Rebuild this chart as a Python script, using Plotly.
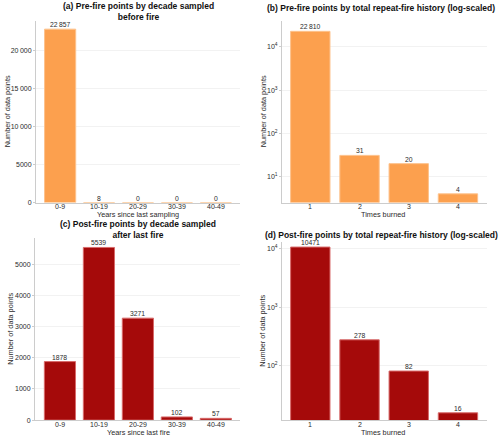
import math
import plotly.graph_objects as go

W, H = 500, 442

decades = ["0-9", "10-19", "20-29", "30-39", "40-49"]
times_burned = ["1", "2", "3", "4"]

pre_decade_counts = [22857, 8, 0, 0, 0]
pre_times_counts = [22810, 31, 20, 4]
post_decade_counts = [1878, 5539, 3271, 102, 57]
post_times_counts = [10471, 278, 82, 16]

pre_decade_labels = ["22\u2009857", "8", "0", "0", "0"]
pre_times_labels = ["22\u2009810", "31", "20", "4"]
post_decade_labels = ["1878", "5539", "3271", "102", "57"]
post_times_labels = ["10471", "278", "82", "16"]

lin_a_ticks = [0, 5000, 10000, 15000, 20000]
lin_a_text = ["0", "5000", "10\u2009000", "15\u2009000", "20\u2009000"]
lin_c_ticks = [0, 1000, 2000, 3000, 4000, 5000]
log_ticks = [10, 100, 1000, 10000]
log_text = ["10<sup>1</sup>", "10<sup>2</sup>", "10<sup>3</sup>", "10<sup>4</sup>"]

ORANGE = "#FCA04E"
ORANGE_EDGE = "#FDC28C"
RED = "#A50A0A"
RED_EDGE = "#D86A6A"
FONT = "Liberation Sans, Arial, sans-serif"
TXT = "#2b2b2b"

def px_x(a, b):
    return [a / W, b / W]

def px_y(top, bottom):
    return [(H - bottom) / H, (H - top) / H]

fig = go.Figure()

def add_bar(x, y, labels, color, edge, xa, ya, log=False, tick_y=0):
    fig.add_trace(go.Bar(
        x=x, y=y,
        marker=dict(color=color, line=dict(color=edge, width=1)),
        width=0.8, xaxis=xa, yaxis=ya, showlegend=False, hoverinfo="skip",
    ))
    for i, (cat, val, lab) in enumerate(zip(x, y, labels)):
        yv = math.log10(val) if log else val
        fig.add_annotation(text=lab, x=i, y=yv, xref=xa, yref=ya,
                           xanchor="center", yanchor="bottom", yshift=-1, showarrow=False,
                           font=dict(size=6.8, color=TXT, family=FONT))
        fig.add_annotation(text=cat, x=i, y=(H - tick_y) / H, xref=xa, yref="paper",
                           xanchor="center", yanchor="middle", showarrow=False,
                           font=dict(size=7, color=TXT, family=FONT))

add_bar(decades, pre_decade_counts, pre_decade_labels, ORANGE, ORANGE_EDGE, "x", "y", tick_y=208)
add_bar(times_burned, pre_times_counts, pre_times_labels, ORANGE, ORANGE_EDGE, "x2", "y2", log=True, tick_y=208)
add_bar(decades, post_decade_counts, post_decade_labels, RED, RED_EDGE, "x3", "y3", tick_y=427.5)
add_bar(times_burned, post_times_counts, post_times_labels, RED, RED_EDGE, "x4", "y4", log=True, tick_y=427.5)

axis_common = dict(
    showline=True, linecolor="#cccccc", linewidth=1,
    tickfont=dict(size=7, color=TXT, family=FONT),
    zeroline=False,
)
xcommon = dict(axis_common, showgrid=False, type="category", ticks="", showticklabels=False)
ycommon = dict(axis_common, showgrid=True, gridcolor="#f2f2f2", gridwidth=1,
               ticks="outside", ticklen=2, tickcolor="#cccccc")

fig.update_layout(
    width=W, height=H, margin=dict(l=0, r=0, t=0, b=0),
    paper_bgcolor="white", plot_bgcolor="white",
    bargap=0.2, font=dict(family=FONT),
    xaxis=dict(xcommon, domain=px_x(36, 240), range=[-0.62, 4.62], anchor="y"),
    yaxis=dict(ycommon, domain=px_y(21, 204), range=[0, 23950], anchor="x",
               tickvals=lin_a_ticks, ticktext=lin_a_text),
    xaxis2=dict(xcommon, domain=px_x(282, 487), range=[-0.575, 3.59], anchor="y2"),
    yaxis2=dict(ycommon, domain=px_y(21, 204), type="log", range=[0.4, 4.6], anchor="x2",
                tickvals=log_ticks, ticktext=log_text),
    xaxis3=dict(xcommon, domain=px_x(35, 240), range=[-0.64, 4.62], anchor="y3"),
    yaxis3=dict(ycommon, domain=px_y(240, 423), range=[0, 5830], anchor="x3",
                tickvals=lin_c_ticks),
    xaxis4=dict(xcommon, domain=px_x(282, 487), range=[-0.575, 3.59], anchor="y4"),
    yaxis4=dict(ycommon, domain=px_y(244, 423), type="log", range=[1.08, 4.1], anchor="x4",
                tickvals=log_ticks, ticktext=log_text),
)

def note(text, xc, yc, size, color=TXT, angle=0):
    fig.add_annotation(text=text, x=xc / W, y=(H - yc) / H, xref="paper", yref="paper",
                       xanchor="center", yanchor="middle", showarrow=False, textangle=angle,
                       font=dict(size=size, color=color, family=FONT))

titles = [
    ("<b>(a) Pre-fire points by decade sampled<br>before fire</b>", 138, 12),
    ("<b>(b) Pre-fire points by total repeat-fire history (log-scaled)</b>", 381, 8),
    ("<b>(c) Post-fire points by decade sampled<br>after last fire</b>", 138, 231.5),
    ("<b>(d) Post-fire points by total repeat-fire history (log-scaled)</b>", 381, 237),
]
for txt, xc, yc in titles:
    note(txt, xc, yc, 8.5, color="#111111")

x_titles = [
    ("Years since last sampling", 138, 216),
    ("Times burned", 383, 216),
    ("Years since last fire", 138, 435),
    ("Times burned", 383, 435),
]
for txt, xc, yc in x_titles:
    note(txt, xc, yc, 7.3)

y_titles = [(7, 112), (263, 112), (11, 331), (263, 333)]
for xc, yc in y_titles:
    note("Number of data points", xc, yc, 7.3, angle=-90)

fig.write_html("out.html", config={"displayModeBar": False},
               post_script="document.body.style.margin='0';document.body.style.overflow='hidden';")
